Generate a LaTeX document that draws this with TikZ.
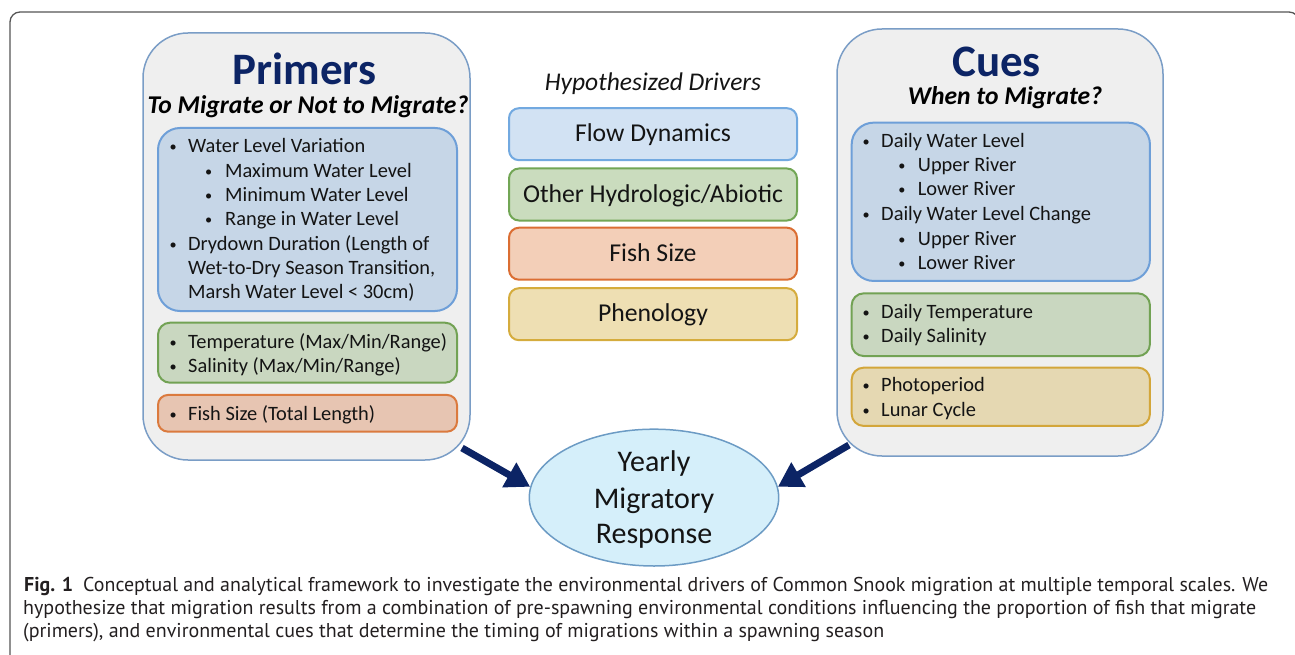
\documentclass[tikz,border=0pt]{standalone}
\usepackage{graphicx}
\usepackage{fontspec}
\setmainfont{Carlito}
\newfontfamily\capfont{PT Sans}
\usetikzlibrary{shapes.geometric,arrows.meta}
\definecolor{navy}{HTML}{0C2465}
\definecolor{tcol}{HTML}{141414}
\definecolor{ofill}{HTML}{EFEFEF}
\definecolor{obord}{HTML}{7A9DC6}
\definecolor{bfill}{HTML}{C6D6E7}
\definecolor{bbord}{HTML}{6E9FD8}
\definecolor{gfill}{HTML}{C9D7C0}
\definecolor{gbord}{HTML}{72A254}
\definecolor{rfill}{HTML}{E7C5B2}
\definecolor{rbord}{HTML}{DB7A3E}
\definecolor{yfill}{HTML}{E5D8B2}
\definecolor{ybord}{HTML}{D3A63A}
\definecolor{mbfill}{HTML}{D2E2F3}
\definecolor{mbbord}{HTML}{72A9E0}
\definecolor{mgfill}{HTML}{CADCBE}
\definecolor{mgbord}{HTML}{72A655}
\definecolor{mrfill}{HTML}{F3CFB8}
\definecolor{mrbord}{HTML}{DB6E33}
\definecolor{myfill}{HTML}{EEDFB3}
\definecolor{mybord}{HTML}{D5AC3D}
\definecolor{efill}{HTML}{D5EFFA}
\definecolor{ebord}{HTML}{6C9BC4}
\definecolor{capcol}{HTML}{231F20}
\definecolor{framecol}{HTML}{555555}
\newcommand\Bi[5]{\node[txt] (#1) at (#3,#4) {\llap{\makebox[0pt]{\raisebox{1pt}{\scalebox{0.7}{\textbullet}}}\hspace{#2pt}}#5};}
\newcommand\Tx[4]{\node[txt] (#1) at (#2,#3) {#4};}
\begin{document}
\begin{tikzpicture}[x=1pt,y=-1pt,
  outerbox/.style={draw=obord,fill=ofill,line width=1.5pt,rounded corners=45pt,inner sep=0pt,outer sep=0pt},
  innerbox/.style={line width=2pt,rounded corners=22pt,inner sep=0pt,outer sep=0pt},
  midbox/.style={line width=2pt,rounded corners=10pt,inner sep=0pt,outer sep=0pt,minimum width=288pt,minimum height=52pt,
     font=\fontsize{25.7}{30}\selectfont,text=tcol,text height=19pt,text depth=3.5pt},
  txt/.style={font=\fontsize{20.4}{24}\selectfont,text=tcol,inner sep=0pt,anchor=base west},
  title/.style={font=\fontsize{45}{50}\selectfont\bfseries,text=navy,inner sep=0pt,anchor=base},
  subtitle/.style={font=\fontsize{25.6}{30}\selectfont\bfseries\itshape,text=black,inner sep=0pt,anchor=base},
  etxt/.style={font=\fontsize{30}{34}\selectfont,text=tcol,inner sep=0pt,anchor=base},
  captxt/.style={font=\capfont\fontsize{20}{24}\selectfont,text=capcol,inner sep=0pt,anchor=base west},
  arr/.style={draw=navy,line width=7pt,-{Triangle[length=24pt,width=27pt]}}
]
\useasboundingbox (0,0) rectangle (1295,655);
% frame
\draw[draw=framecol,line width=1.3pt,rounded corners=10pt] (10,670) -- (10,12) -- (1299,12) -- (1299,670);

% Primers
\node[outerbox,minimum width=327pt,minimum height=427pt] (primers) at (306.5,246.5) {};
\node[title] (ptitle) at (304.5,85) {Primers};
\node[subtitle] (psub) at (308,114) {To Migrate or Not to Migrate?};
\node[innerbox,draw=bbord,fill=bfill,minimum width=299pt,minimum height=183pt] (pblue) at (307.5,219.5) {};
\node[innerbox,draw=gbord,fill=gfill,rounded corners=12pt,minimum width=299pt,minimum height=60pt] (pgreen) at (307.5,352.7) {};
\node[innerbox,draw=rbord,fill=rfill,rounded corners=10pt,minimum width=299pt,minimum height=36.7pt] (pred) at (307.5,413.3) {};
\Bi{p1}{15}{188}{153}{Water Level Variation}
\Bi{p2}{16.5}{225}{177.3}{Maximum Water Level}
\Bi{p3}{16.5}{225}{201.6}{Minimum Water Level}
\Bi{p4}{16.5}{225}{225.9}{Range in Water Level}
\Bi{p5}{15}{188}{250.2}{Drydown Duration (Length of}
\Tx{p6}{188}{274.5}{Wet-to-Dry Season Transition,}
\Tx{p7}{188}{298.8}{Marsh Water Level < 30cm)}
\Bi{p8}{15}{188}{348}{Temperature (Max/Min/Range)}
\Bi{p9}{15}{188}{372.5}{Salinity (Max/Min/Range)}
\Bi{p10}{15}{188}{420.7}{Fish Size (Total Length)}

% Middle
\node[font=\fontsize{25.5}{30}\selectfont\itshape,text=tcol,inner sep=0pt,anchor=base] (hyp) at (653,91) {Hypothesized Drivers};
\node[midbox,draw=mbbord,fill=mbfill] (flow) at (653,134.2) {Flow Dynamics};
\node[midbox,draw=mgbord,fill=mgfill] (other) at (653,194.5) {Other Hydrologic/Abiotic};
\node[midbox,draw=mrbord,fill=mrfill] (fish) at (653,253.7) {Fish Size};
\node[midbox,draw=mybord,fill=myfill] (pheno) at (653,314.2) {Phenology};

% Cues
\node[outerbox,minimum width=326pt,minimum height=427pt] (cues) at (1000,242.5) {};
\node[title] (ctitle) at (996.5,76.7) {Cues};
\node[subtitle] (csub) at (1005,105) {When to Migrate?};
\node[innerbox,draw=bbord,fill=bfill,minimum width=298.3pt,minimum height=158.3pt] (cblue) at (1000.8,201.8) {};
\node[innerbox,draw=gbord,fill=gfill,rounded corners=12pt,minimum width=298.3pt,minimum height=62.7pt] (cgreen) at (1000.8,324.7) {};
\node[innerbox,draw=ybord,fill=yfill,rounded corners=12pt,minimum width=298.3pt,minimum height=58.3pt] (cyel) at (1000.8,396.8) {};
\Bi{c1}{15}{881}{147.7}{Daily Water Level}
\Bi{c2}{16}{917.7}{171.7}{Upper River}
\Bi{c3}{16}{917.7}{196}{Lower River}
\Bi{c4}{15}{881}{220}{Daily Water Level Change}
\Bi{c5}{16}{917.7}{245}{Upper River}
\Bi{c6}{16}{917.7}{269.3}{Lower River}
\Bi{c7}{15}{881}{318.3}{Daily Temperature}
\Bi{c8}{15}{881}{342.7}{Daily Salinity}
\Bi{c9}{15}{881}{391.7}{Photoperiod}
\Bi{c10}{15}{881}{416}{Lunar Cycle}

% Response
\node[ellipse,draw=ebord,fill=efill,line width=1.5pt,inner sep=0pt,minimum width=249.4pt,minimum height=136.8pt] (resp) at (654,497.6) {};
\node[etxt] (r1) at (654,471.7) {Yearly};
\node[etxt] (r2) at (654,508.3) {Migratory};
\node[etxt] (r3) at (654,543.3) {Response};

% arrows
\coordinate (pa) at (462,448);
\coordinate (ca) at (849,445);
\draw[arr] (pa) -- (resp.175);
\draw[arr] (ca) -- (resp.5);

% caption
\node[captxt] (cap1) at (24,591) {\resizebox{1244pt}{\height}{\textbf{Fig. 1}\enspace Conceptual and analytical framework to investigate the environmental drivers of Common Snook migration at multiple temporal scales. We}};
\node[captxt] (cap2) at (23,614) {\resizebox{1233pt}{\height}{hypothesize that migration results from a combination of pre-spawning environmental conditions influencing the proportion of fish that migrate}};
\node[captxt] (cap3) at (23,637) {\resizebox{861pt}{\height}{(primers), and environmental cues that determine the timing of migrations within a spawning season}};
\end{tikzpicture}
\end{document}
